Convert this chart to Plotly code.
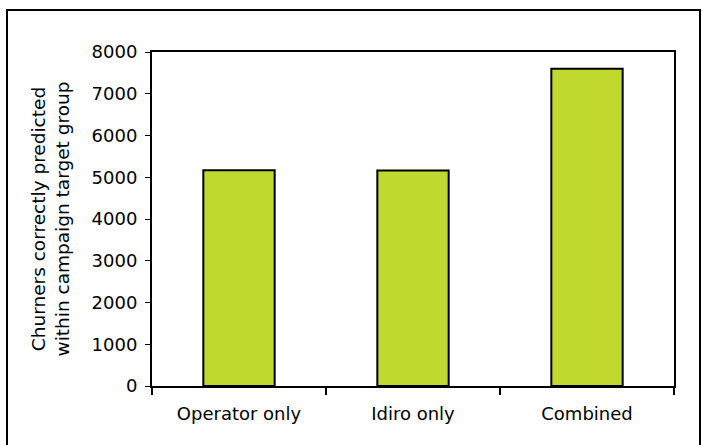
import plotly.graph_objects as go

# Churners predicted within the campaign target group, by model source
categories = ["Operator only", "Idiro only", "Combined"]
churners = [5170, 5160, 7600]

y_ticks = [0, 1000, 2000, 3000, 4000, 5000, 6000, 7000, 8000]

W, H = 702, 445
L, R, T, B = 152, 28, 52, 59
pw = W - L - R
ph = H - T - B

font = "DejaVu Sans"

fig = go.Figure(
    go.Bar(
        x=categories,
        y=churners,
        marker=dict(color="#C1D82F", line=dict(color="black", width=2)),
        width=0.41,
    )
)

fig.update_layout(
    width=W,
    height=H,
    margin=dict(l=L, r=R, t=T, b=B, pad=0),
    paper_bgcolor="white",
    plot_bgcolor="white",
    showlegend=False,
    font=dict(family=font, size=18, color="black"),
)

fig.update_xaxes(
    showline=True,
    linecolor="black",
    linewidth=2,
    mirror=True,
    showgrid=False,
    ticks="outside",
    tickson="boundaries",
    ticklen=7,
    tickwidth=2,
    tickcolor="black",
    ticklabelstandoff=10,
    tickfont=dict(family=font, size=18, color="black"),
)

fig.update_yaxes(
    range=[0, 8000],
    tickvals=y_ticks,
    ticktext=[str(v) for v in y_ticks],
    showline=True,
    linecolor="black",
    linewidth=2,
    mirror=True,
    showgrid=False,
    zeroline=False,
    ticks="outside",
    ticklen=5,
    tickwidth=1,
    tickcolor="black",
    ticklabelstandoff=4,
    tickfont=dict(family=font, size=18, color="black"),
)

# Axis title, two stacked lines rotated along the y axis
fig.add_annotation(
    text="Churners correctly predicted<br>within campaign target group",
    xref="paper",
    yref="paper",
    x=(49.5 - L) / pw,
    y=0.5,
    xanchor="center",
    yanchor="middle",
    textangle=-90,
    showarrow=False,
    font=dict(family=font, size=18.5, color="black"),
)

# Outer chart frame
fig.add_shape(
    type="rect",
    xref="paper",
    yref="paper",
    x0=(7 - L) / pw,
    x1=(700 - L) / pw,
    y0=-(H - T + 10 - ph) / ph,
    y1=1 + (T - 10) / ph,
    line=dict(color="black", width=2),
    fillcolor="rgba(0,0,0,0)",
    layer="below",
)

fig.write_html("out.html")
